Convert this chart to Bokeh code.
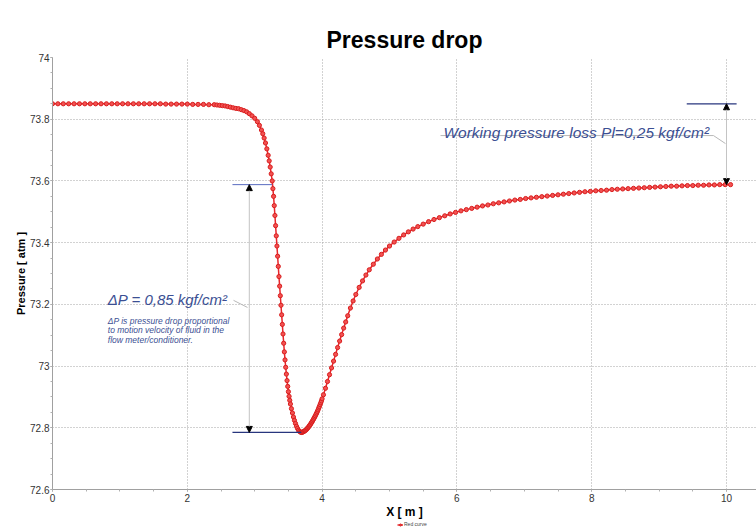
from bokeh.plotting import figure
from bokeh.layouts import column
from bokeh.models import (Range1d, FixedTicker, Label, Arrow, NormalHead,
                          Legend, LegendItem)
from bokeh.embed import file_html
from bokeh.resources import INLINE

# ---------------- data ----------------
x_m = [
    0.00, 0.08, 0.16, 0.24, 0.32, 0.40, 0.48, 0.56, 0.64, 0.72, 0.80, 0.88, 0.96,
    1.04, 1.12, 1.20, 1.28, 1.36, 1.44, 1.52, 1.60, 1.68, 1.76, 1.84, 1.92, 2.00,
    2.08, 2.16, 2.24, 2.32, 2.40, 2.44, 2.48, 2.52, 2.56, 2.60, 2.64, 2.68, 2.72,
    2.76, 2.80, 2.84, 2.88, 2.92, 2.96, 3.00, 3.04, 3.07, 3.10, 3.12, 3.14, 3.16,
    3.18, 3.20, 3.215, 3.23, 3.245, 3.26, 3.27, 3.28, 3.29, 3.30, 3.31, 3.32, 3.33,
    3.34, 3.35, 3.36, 3.37, 3.38, 3.39, 3.40, 3.41, 3.42, 3.43, 3.44, 3.45, 3.46,
    3.47, 3.48, 3.49, 3.50, 3.51, 3.52, 3.53, 3.545, 3.56, 3.575, 3.59, 3.605,
    3.62, 3.635, 3.65, 3.665, 3.68, 3.69, 3.70, 3.71, 3.72, 3.73, 3.74, 3.75,
    3.76, 3.77, 3.78, 3.79, 3.80, 3.81, 3.82, 3.83, 3.84, 3.85, 3.86, 3.87, 3.88,
    3.89, 3.90, 3.91, 3.92, 3.93, 3.94, 3.95, 3.96, 3.97, 3.98, 3.99, 4.00, 4.02,
    4.05, 4.08, 4.11, 4.14, 4.17, 4.20, 4.23, 4.26, 4.29, 4.32, 4.35, 4.38, 4.42,
    4.46, 4.50, 4.55, 4.60, 4.65, 4.70, 4.76, 4.82, 4.88, 4.94, 5.00, 5.07, 5.14,
    5.21, 5.28, 5.35, 5.42, 5.50, 5.58, 5.66, 5.74, 5.82, 5.90, 5.98, 6.06, 6.14,
    6.22, 6.30, 6.38, 6.46, 6.54, 6.62, 6.70, 6.78, 6.86, 6.94, 7.02, 7.10, 7.18,
    7.26, 7.34, 7.42, 7.50, 7.58, 7.66, 7.74, 7.82, 7.90, 7.98, 8.06, 8.14, 8.22,
    8.30, 8.38, 8.46, 8.54, 8.62, 8.70, 8.78, 8.86, 8.94, 9.02, 9.10, 9.18, 9.26,
    9.34, 9.42, 9.50, 9.58, 9.66, 9.74, 9.82, 9.90, 9.98, 10.06,
]
pressure_atm = [
    73.850, 73.850, 73.850, 73.850, 73.850, 73.850, 73.850, 73.850, 73.850, 73.850,
    73.850, 73.850, 73.850, 73.850, 73.850, 73.850, 73.850, 73.850, 73.850, 73.850,
    73.850, 73.849, 73.849, 73.849, 73.849, 73.849, 73.848, 73.848, 73.848, 73.847,
    73.847, 73.846, 73.845, 73.844, 73.843, 73.841, 73.839, 73.837, 73.835, 73.834,
    73.831, 73.828, 73.824, 73.818, 73.811, 73.803, 73.792, 73.780, 73.765, 73.753,
    73.739, 73.723, 73.704, 73.683, 73.665, 73.645, 73.623, 73.600, 73.575, 73.550,
    73.520, 73.488, 73.455, 73.422, 73.389, 73.356, 73.323, 73.290, 73.259, 73.228,
    73.197, 73.166, 73.135, 73.104, 73.074, 73.046, 73.020, 72.996, 72.974, 72.953,
    72.934, 72.917, 72.902, 72.889, 72.877, 72.862, 72.848, 72.835, 72.824, 72.814,
    72.805, 72.798, 72.792, 72.788, 72.786, 72.785, 72.785, 72.786, 72.787, 72.788,
    72.790, 72.791, 72.793, 72.795, 72.798, 72.800, 72.803, 72.806, 72.809, 72.812,
    72.816, 72.819, 72.823, 72.827, 72.831, 72.835, 72.839, 72.844, 72.848, 72.853,
    72.858, 72.864, 72.869, 72.875, 72.881, 72.887, 72.894, 72.907, 72.928, 72.950,
    72.972, 72.994, 73.016, 73.038, 73.060, 73.081, 73.102, 73.123, 73.143, 73.163,
    73.188, 73.211, 73.232, 73.255, 73.276, 73.295, 73.312, 73.330, 73.347, 73.362,
    73.376, 73.389, 73.402, 73.414, 73.425, 73.435, 73.444, 73.452, 73.460, 73.468,
    73.475, 73.481, 73.487, 73.493, 73.498, 73.503, 73.507, 73.511, 73.515, 73.519,
    73.522, 73.526, 73.529, 73.532, 73.535, 73.538, 73.540, 73.543, 73.545, 73.547,
    73.549, 73.551, 73.553, 73.555, 73.557, 73.559, 73.561, 73.563, 73.565, 73.566,
    73.568, 73.569, 73.570, 73.572, 73.573, 73.574, 73.575, 73.576, 73.577, 73.578,
    73.579, 73.580, 73.581, 73.582, 73.583, 73.583, 73.584, 73.585, 73.585, 73.586,
    73.586, 73.587, 73.587, 73.588, 73.588, 73.588,
]

x_ticks = [0, 2, 4, 6, 8, 10]
x_tick_labels = ["0", "2", "4", "6", "8", "10"]
y_ticks = [72.6, 72.8, 73.0, 73.2, 73.4, 73.6, 73.8, 74.0]
y_tick_labels = ["72.6", "72.8", "73", "73.2", "73.4", "73.6", "73.8", "74"]

title_text = "Pressure drop"
x_label = "X [ m ]"
y_label = "Pressure [ atm ]"
series_name = "Red curve"
dp_text = "ΔP = 0,85 kgf/cm²"
dp_note = ["ΔP is pressure drop proportional",
           "to motion velocity of fluid in the",
           "flow meter/conditioner."]
wp_text = "Working pressure loss Pl=0,25 kgf/cm²"

# ---------------- figure ----------------
FONT = "Liberation Sans"
NOTE_COLOR = "#3b4f93"
LINE_COLOR = "#e8262b"
DOT_FILL = "#f25252"
DOT_LINE = "#d91e1e"

p = figure(width=756, height=521, output_backend="svg", toolbar_location=None,
           x_range=Range1d(0, 10.445), y_range=Range1d(72.6, 74.0),
           min_border_left=52, min_border_top=57, min_border_bottom=32,
           min_border_right=0, background_fill_color="white",
           border_fill_color="white", outline_line_color=None)

p.title.text = title_text
p.title.align = "center"
p.title.text_font = FONT
p.title.text_font_size = "23px"
p.title.text_font_style = "bold"
p.title.text_color = "black"
p.title.standoff = 9

# axes
p.xaxis.ticker = FixedTicker(ticks=x_ticks,
                             minor_ticks=[t / 2 for t in range(0, 21)])
p.yaxis.ticker = FixedTicker(ticks=y_ticks,
                             minor_ticks=[72.6 + i * 0.05 for i in range(29)])
p.xaxis.major_label_overrides = dict(zip(x_ticks, x_tick_labels))
p.yaxis.major_label_overrides = dict(zip(y_ticks, y_tick_labels))
p.xaxis.axis_label = x_label
p.yaxis.axis_label = y_label
for ax in (p.xaxis[0], p.yaxis[0]):
    ax.axis_line_color = "#a0a0a0"
    ax.major_tick_line_color = "#a0a0a0"
    ax.minor_tick_line_color = "#b0b0b0"
    ax.major_tick_out = 2
    ax.major_tick_in = 0
    ax.minor_tick_out = 2
    ax.minor_tick_in = 0
    ax.major_label_text_font = FONT
    ax.major_label_text_font_size = "10px"
    ax.major_label_text_color = "#333333"
    ax.axis_label_text_font = FONT
    ax.axis_label_text_font_style = "bold"
    ax.axis_label_text_color = "black"
p.yaxis.major_label_standoff = 1
p.yaxis.axis_label_standoff = 0
p.yaxis.axis_label_text_font_size = "11px"
p.xaxis.major_label_standoff = 2
p.xaxis.axis_label_standoff = 0
p.xaxis.axis_label_text_font_size = "12px"

p.grid.grid_line_color = "#a5a5a5"
p.grid.grid_line_dash = "1 2"
p.grid.grid_line_width = 1

# data
p.line(x_m, pressure_atm, line_color=LINE_COLOR, line_width=1.5)
p.scatter(x_m, pressure_atm, size=4.2, fill_color=DOT_FILL,
          line_color=DOT_LINE, line_width=1)

# ---------------- dimension annotations ----------------
y_start = pressure_atm[0]
y_end = pressure_atm[-1]
y_min = min(pressure_atm)
x_min = x_m[pressure_atm.index(y_min)]

def head():
    return NormalHead(size=6, fill_color="black", line_color="black")

# delta-P dimension
dp_x = 2.92
p.segment(x0=[2.67], y0=[y_end], x1=[3.26], y1=[y_end],
          line_color="#5a6cc0", line_width=1)
p.segment(x0=[2.67], y0=[y_min], x1=[x_min], y1=[y_min],
          line_color="#28367e", line_width=1.2)
p.add_layout(Arrow(x_start=dp_x, y_start=(y_end + y_min) / 2, x_end=dp_x, y_end=y_end,
                   line_color="#c4c4c4", line_width=1, end=head()))
p.add_layout(Arrow(x_start=dp_x, y_start=(y_end + y_min) / 2, x_end=dp_x, y_end=y_min,
                   line_color="#c4c4c4", line_width=1, end=head()))
p.segment(x0=[2.686], y0=[73.213], x1=[2.893], y1=[73.19],
          line_color="#b8b8b8", line_width=1)

# working pressure loss dimension
wp_x = 10.0
p.segment(x0=[9.41], y0=[y_start], x1=[10.15], y1=[y_start],
          line_color="#28367e", line_width=1.2)
p.add_layout(Arrow(x_start=wp_x, y_start=(y_start + y_end) / 2, x_end=wp_x, y_end=y_start,
                   line_color="#c4c4c4", line_width=1, end=head()))
p.add_layout(Arrow(x_start=wp_x, y_start=(y_start + y_end) / 2, x_end=wp_x, y_end=y_end,
                   line_color="#c4c4c4", line_width=1, end=head()))
p.line(x=[5.757, 9.807, 9.985], y=[73.747, 73.747, 73.721],
       line_color="#b8b8b8", line_width=1)

# texts
p.add_layout(Label(x=0.82, y=73.216, text=dp_text, text_font=FONT,
                   text_font_style="italic", text_font_size="15px",
                   text_color=NOTE_COLOR, text_baseline="alphabetic"))
for i, line in enumerate(dp_note):
    p.add_layout(Label(x=0.82, y=73.145 - i * 0.0295, text=line, text_font=FONT,
                       text_font_style="italic", text_font_size="8.5px",
                       text_color=NOTE_COLOR, text_baseline="alphabetic"))
p.add_layout(Label(x=5.80, y=73.757, text=wp_text, text_font=FONT,
                   text_font_style="italic", text_font_size="15.5px",
                   text_color=NOTE_COLOR, text_baseline="alphabetic"))

# ---------------- tiny legend strip under the x-axis label ----------------
lf = figure(width=756, height=10, output_backend="svg", toolbar_location=None,
            x_range=Range1d(0, 1), y_range=Range1d(0, 1),
            x_axis_location=None, y_axis_location=None,
            min_border=0, outline_line_color=None,
            background_fill_color="white", border_fill_color="white")
lf.grid.visible = False
# same series, kept out of view; only its legend entry is shown here
lg_line = lf.line(x_m, pressure_atm, line_color=LINE_COLOR, line_width=1.5)
lg_dots = lf.scatter(x_m, pressure_atm, size=3, fill_color=DOT_FILL,
                     line_color=DOT_LINE, line_width=1)
legend = Legend(items=[LegendItem(label=series_name, renderers=[lg_line, lg_dots])],
                location=(345, 4), orientation="horizontal",
                label_text_font=FONT, label_text_font_size="5px",
                label_text_color="#444444", label_height=5, label_standoff=1,
                glyph_width=6, glyph_height=5, padding=0, margin=0, spacing=0,
                border_line_color=None, background_fill_alpha=0)
lf.add_layout(legend)

layout = column(p, lf, spacing=0)
open("out.html", "w").write(file_html(layout, INLINE))
